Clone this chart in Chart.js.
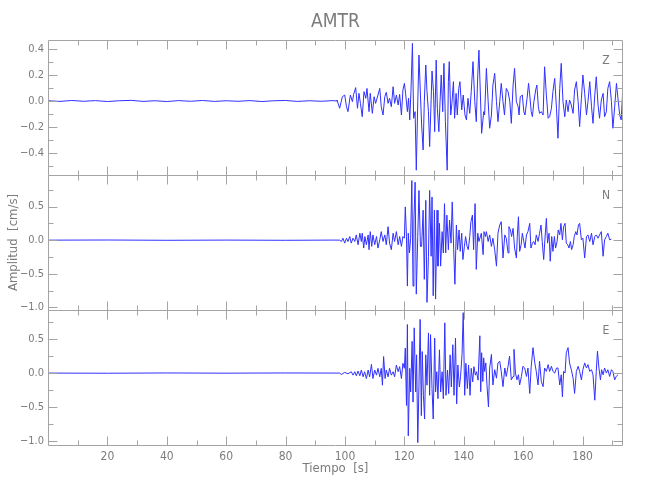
<!DOCTYPE html>
<html><head><meta charset="utf-8">
<script src="https://cdn.jsdelivr.net/npm/chart.js@4/dist/chart.umd.min.js"></script>
<style>html,body{margin:0;padding:0;background:#fff}canvas{display:block}</style>
</head><body>
<canvas id="c" width="650" height="500"></canvas>
<script>
// ---- Data (time in s, amplitude in cm/s) ----
const zTime = [
 0,4,8,12,16,20,24,28,32,36,
 40,44,48,52,56,60,64,68,72,76,
 80,84,88,92,96,
 97.1,97.3,98.2,99.1,99.9,100.5,101.0,101.8,102.5,102.9,
 103.6,104.2,104.7,105.2,105.8,106.4,107.0,107.4,108.1,108.5,
 109.2,109.8,110.3,111.1,111.7,112.2,112.8,113.4,113.9,114.5,
 115.0,115.6,116.2,116.7,117.3,117.9,118.4,119.0,119.5,120.0,
 120.4,121.0,121.4,121.8,122.2,122.7,123.1,123.6,124.0,124.5,
 124.9,125.4,125.8,126.3,126.7,127.2,127.6,128.1,128.5,129.0,
 129.3,129.8,130.2,130.7,131.1,131.6,132.0,132.4,132.9,133.3,
 133.8,134.4,134.8,135.1,135.6,136.0,136.5,136.9,137.4,137.8,
 138.3,138.7,139.3,139.8,140.4,140.9,141.4,142.0,142.5,143.1,
 143.7,144.2,144.7,145.1,146.0,146.7,147.0,147.6,148.2,148.7,
 149.3,149.8,150.4,151.0,151.5,152.1,152.6,153.2,153.7,154.3,
 154.9,155.5,156.0,156.6,157.1,157.7,158.3,158.6,159.0,159.7,
 160.2,160.6,161.3,161.8,162.2,162.7,163.1,163.6,164.2,164.6,
 165.1,165.5,166.1,166.7,167.2,167.8,168.4,168.9,169.5,170.0,
 170.6,171.2,171.7,172.3,172.8,173.4,174.0,174.5,175.1,175.6,
 176.2,176.8,177.3,177.9,178.5,179.0,179.6,180.1,180.7,181.3,
 181.8,182.4,183.0,183.5,184.1,184.6,185.2,185.7,186.3,186.9,
 187.4,188.0,188.5,189.1,189.7,190.2,190.8,191.4,191.9,192.5,
 193.0,193.6
];
const zAmp = [
 0.002,-0.003,0.004,-0.002,0.003,-0.004,0.002,0.005,-0.003,0.002,
 -0.004,0.003,-0.002,0.004,-0.003,0.002,-0.002,0.003,-0.004,0.002,
 0.004,-0.003,0.002,-0.002,0.003,
 0,0.008,-0.056,0.033,0.046,-0.044,-0.082,0.046,-0.005,0.051,
 0.103,-0.056,0.059,-0.018,-0.121,0.072,0.021,0.097,-0.082,0.059,
 -0.095,0.033,-0.018,0.046,0.097,-0.044,-0.108,0.033,0.067,-0.018,
 0.021,-0.044,0.110,-0.018,0.046,-0.031,0.051,-0.108,0.085,0.136,
 0.059,-0.082,0.021,-0.146,0.072,0.444,-0.133,-0.082,-0.533,-0.005,
 0.354,0.046,-0.185,-0.377,-0.005,0.277,0.072,-0.082,-0.351,0.008,
 0.231,0.072,-0.236,0.315,-0.056,-0.236,-0.005,0.200,-0.082,0.290,
 -0.159,-0.533,0.149,0.303,-0.108,-0.018,0.149,-0.133,0.059,-0.108,
 0.097,0.149,-0.069,0.046,-0.108,-0.146,0.021,-0.095,0.072,0.303,
 -0.005,-0.159,0.200,0.392,-0.249,-0.082,-0.108,0.251,-0.005,-0.210,
 -0.108,0.123,0.213,-0.005,-0.159,-0.005,0.136,-0.005,-0.108,0.097,
 0.072,-0.005,-0.172,0.123,0.251,-0.005,-0.044,-0.108,0.033,0.046,
 -0.082,-0.108,0.021,0.136,0.046,-0.082,-0.121,-0.005,0.085,0.123,
 -0.044,-0.095,-0.082,-0.108,0.264,0.046,-0.133,-0.121,-0.056,0.072,
 0.174,-0.056,-0.287,0.097,0.290,-0.005,-0.121,0.008,-0.082,0.008,
 -0.031,-0.095,0.085,0.149,-0.005,-0.197,0.021,0.200,0.059,-0.108,
 -0.005,0.149,-0.044,-0.172,0.046,0.187,-0.031,-0.133,0.008,0.059,
 -0.121,-0.082,0.097,0.149,-0.005,-0.210,-0.044,0.136,0.021,-0.108,
 -0.146,0.123
];
const nTime = [
 0,20,40,60,80,96,
 98.2,98.8,99.3,99.9,100.5,101.0,101.6,102.1,102.7,103.3,
 103.8,104.4,105.0,105.5,105.8,106.3,106.7,107.2,107.8,108.1,
 108.5,109.0,109.4,110.0,110.6,111.1,111.7,112.2,112.8,113.4,
 113.9,114.5,115.0,115.6,116.2,116.7,117.3,117.9,118.4,119.0,
 119.5,120.0,120.3,120.7,121.0,121.3,121.7,122.1,122.5,122.9,
 123.2,123.6,124.0,124.5,124.9,125.4,125.8,126.3,126.7,127.2,
 127.6,128.1,128.5,129.0,129.3,129.7,130.1,130.5,131.0,131.3,
 131.8,132.2,132.7,133.1,133.5,133.9,134.3,134.8,135.2,135.7,
 136.1,136.6,137.0,137.5,137.9,138.4,138.8,139.3,139.7,140.2,
 140.6,141.1,141.5,142.0,142.4,142.9,143.3,143.8,144.2,144.7,
 145.1,145.9,146.5,146.8,147.3,147.6,148.2,148.7,149.3,149.8,
 150.4,151.0,151.5,152.1,152.6,153.2,153.8,154.3,154.9,155.2,
 155.7,156.1,156.6,157.1,157.7,158.0,158.4,158.8,159.3,159.7,
 160.2,160.6,161.1,161.6,162.2,162.6,163.1,163.5,164.0,164.4,
 165.0,165.5,166.0,166.4,166.9,167.3,167.8,168.2,168.7,169.1,
 169.6,170.0,170.5,170.9,171.4,171.8,172.3,172.7,173.2,173.6,
 174.1,174.5,175.0,175.4,175.9,176.3,176.8,177.2,177.7,178.1,
 178.6,179.0,179.6,180.1,180.7,181.3,181.8,182.4,183.0,183.5,
 184.1,184.6,185.2,185.7,186.3,186.9,187.4,188.0,188.5,189.1,
 189.7
];
const nAmp = [
 0,0.002,-0.002,0.001,-0.002,0.001,
 0,-0.020,0.029,-0.044,0.029,-0.020,0.054,-0.044,0.029,-0.020,
 0.078,-0.069,0.103,-0.020,0.103,-0.118,0.054,-0.069,0.078,-0.142,
 0.127,-0.093,0.078,-0.069,0.054,-0.118,0.005,0.127,-0.020,0.078,
 -0.069,0.201,-0.044,-0.142,0.103,-0.020,0.127,-0.069,0.054,-0.093,
 0.054,0.029,0.495,0.054,-0.684,0.103,-0.191,0.029,0.887,-0.684,
 0.299,0.863,-0.804,0.054,0.740,-0.093,-0.093,0.446,-0.583,0.593,
 -0.926,-0.240,0.740,-0.240,0.642,-0.828,0.446,-0.877,0.446,-0.387,
 0.250,-0.387,0.127,-0.191,0.544,-0.191,0.373,-0.142,0.299,-0.044,
 0.569,-0.142,-0.657,0.225,-0.142,0.152,-0.167,0.103,-0.289,-0.093,
 0.054,-0.093,-0.142,0.054,0.275,0.373,-0.142,0.544,-0.436,0.103,
 -0.020,0.103,-0.216,0.127,0.054,0.127,-0.020,0.078,-0.093,0.029,
 -0.142,-0.387,0.103,0.225,0.275,-0.265,0.078,0.029,-0.191,0.201,
 0.152,0.054,0.176,-0.118,-0.265,0.054,0.348,-0.167,-0.069,0.103,
 -0.020,-0.118,0.078,0.127,0.250,-0.118,-0.044,-0.020,-0.069,0.078,
 -0.020,0.103,0.225,-0.020,-0.289,0.005,0.324,-0.044,0.103,-0.314,
 0.054,-0.167,0.054,-0.118,-0.020,0.152,0.078,0.250,0.005,0.201,
 0.250,-0.044,-0.069,-0.118,-0.020,-0.142,-0.069,0.054,0.127,0.078,
 0.225,0.250,0.005,0.029,-0.265,0.054,0.078,-0.020,0.103,-0.069,
 0.054,0.078,0.029,0.078,0.127,-0.240,0.005,0.054,0.103,0.005,
 0.015
];
const eTime = [
 0,20,40,60,80,97,
 98.2,98.8,99.9,101.0,102.1,102.7,103.3,103.8,104.4,105.0,
 105.5,106.1,106.6,107.2,107.8,108.3,108.9,109.4,110.0,110.6,
 111.1,111.7,112.2,112.6,113.0,113.5,113.9,114.5,115.0,115.6,
 116.2,116.7,117.3,117.9,118.4,119.0,119.5,120.0,120.3,120.7,
 121.0,121.3,121.8,122.1,122.6,122.9,123.3,123.8,124.1,124.5,
 124.9,125.3,125.7,126.0,126.4,126.8,127.2,127.6,128.1,128.5,
 128.8,129.3,129.7,130.2,130.5,130.9,131.3,131.8,132.2,132.7,
 133.1,133.6,134.0,134.5,134.9,135.4,135.8,136.3,136.7,137.2,
 137.6,138.0,138.5,138.9,139.4,139.8,140.3,140.7,141.2,141.6,
 142.1,142.5,143.0,143.4,143.9,144.3,144.8,145.4,145.7,146.0,
 146.4,146.7,147.0,147.4,147.8,148.3,148.7,149.3,149.8,150.4,
 151.0,151.5,152.1,152.6,153.2,153.8,154.3,154.9,155.4,156.0,
 156.6,156.9,157.4,157.9,158.4,158.8,159.4,159.9,160.5,161.1,
 161.6,162.2,162.7,163.3,163.9,164.4,165.0,165.5,166.1,166.7,
 167.2,167.8,168.4,168.9,169.5,170.0,170.6,171.2,171.7,172.3,
 172.8,173.2,173.6,174.1,174.5,175.1,175.6,176.2,176.8,177.3,
 177.9,178.5,179.0,179.6,180.1,180.7,181.3,181.8,182.4,183.0,
 183.5,184.1,184.6,185.0,185.5,186.0,186.4,186.9,187.4,188.0,
 188.5,189.1,189.7,190.2,190.8,191.3,191.9
];
const eAmp = [
 0,-0.002,0.002,-0.001,0.002,0,
 0,-0.020,0.010,-0.010,0.020,-0.030,0.020,-0.040,0.030,-0.040,
 0.045,-0.055,0.020,-0.080,0.045,-0.055,0.129,-0.080,0.045,-0.030,
 0.070,-0.055,0.070,-0.179,0.244,-0.080,0.045,-0.055,0.070,-0.030,
 0.020,-0.055,0.119,0.020,0.095,-0.080,0.144,0.070,0.368,-0.478,
 0.716,-0.925,0.070,-0.279,0.468,-0.428,0.667,-0.279,0.269,-1.025,
 -0.179,0.791,-0.627,0.318,-0.328,-0.677,0.269,-0.179,0.592,-0.328,
 0.567,-0.229,-0.677,0.517,-0.279,0.020,-0.378,0.343,-0.279,0.020,
 -0.378,0.741,-0.328,0.045,-0.303,0.269,-0.204,0.418,-0.328,0.517,
 -0.453,0.119,-0.204,-0.055,0.269,0.891,-0.328,0.144,-0.229,0.119,
 -0.328,0.070,-0.129,0.095,-0.030,0.020,-0.104,0.550,-0.275,0.300,
 -0.125,0.225,0.025,0.150,-0.175,-0.500,0.075,0.275,-0.175,0.050,
 -0.075,0.150,0.175,0.025,-0.200,0.075,-0.050,0.100,0.250,-0.100,
 -0.050,0.350,0.000,-0.100,-0.025,-0.175,-0.050,0.100,0.075,-0.050,
 0.075,-0.300,0.100,0.375,0.150,0.025,-0.175,0.175,-0.125,-0.200,
 0.075,0.025,0.125,0.025,0.100,0.025,0.000,0.075,0.075,-0.175,
 -0.025,-0.350,0.025,0.000,0.300,0.375,0.150,0.050,-0.075,-0.300,
 0.025,0.100,0.025,-0.100,0.050,0.150,0.075,0.125,0.025,0.050,
 -0.025,-0.400,0.025,0.325,0.075,-0.100,0.050,-0.025,0.075,0.000,
 0.050,-0.050,0.050,0.025,-0.100,-0.050,-0.025
];

// ---- Ticks and labels ----
const xMajorTicks = [20,40,60,80,100,120,140,160,180];
const xMinorTicks = [10,30,50,70,90,110,130,150,170,190];
const zMajorTicks = [-0.4,-0.2,0.0,0.2,0.4];
const zMinorTicks = [-0.5,-0.3,-0.1,0.1,0.3];
const nMajorTicks = [-1.0,-0.5,0.0,0.5];
const nMinorTicks = [-0.75,-0.25,0.25,0.75];
const eMajorTicks = [-1.0,-0.5,0.0,0.5];
const eMinorTicks = [-0.75,-0.25,0.25,0.75];
const panelNames = ['Z','N','E'];
const titleText = 'AMTR';
const xTitle = 'Tiempo  [s]';
const yTitle = 'Amplitud  [cm/s]';

const NARROW = '"Liberation Sans Narrow", "DejaVu Sans Condensed", "Liberation Sans", sans-serif';
const TEXT = '#7c7c7c';
const FRAME = '#a4a4a4';
const LINE = '#3030ff';

function pts(t, a){ return t.map((v,i)=>({x:v, y:a[i]})); }
function fmt(v){ return v.toFixed(1).replace('-', '\u2212'); }

function yScale(min, max, major){
  return {
    type:'linear', position:'left', stack:'seis', stackWeight:1,
    min, max,
    grid:{display:false, drawTicks:false}, border:{display:false},
    afterBuildTicks: s => { s.ticks = major.map(v=>({value:v})); },
    afterFit: s => { s.width = 48; },
    ticks:{ padding:4, color:TEXT, font:{family:NARROW, size:11}, callback: v => fmt(v) }
  };
}

const panels = [
  {id:'yZ', major:zMajorTicks, minor:zMinorTicks, name:panelNames[0]},
  {id:'yN', major:nMajorTicks, minor:nMinorTicks, name:panelNames[1]},
  {id:'yE', major:eMajorTicks, minor:eMinorTicks, name:panelNames[2]}
];

const framePlugin = {
  id:'frame',
  afterDatasetsDraw(chart){
    const ctx = chart.ctx, xs = chart.scales.x, area = chart.chartArea;
    const l = Math.round(area.left)+0.5, r = Math.round(area.right)-0.5;
    ctx.save();
    ctx.strokeStyle = FRAME; ctx.lineWidth = 1;
    panels.forEach(p=>{
      const ys = chart.scales[p.id];
      const top = Math.round(ys.top)+0.5, bot = Math.round(ys.bottom)+0.5;
      ctx.beginPath();
      ctx.rect(l, top, r-l, bot-top);
      const yt = (v,len)=>{ const py = Math.round(ys.getPixelForValue(v))+0.5;
        ctx.moveTo(l,py); ctx.lineTo(l+len,py); ctx.moveTo(r,py); ctx.lineTo(r-len,py); };
      p.major.forEach(v=>yt(v,9)); p.minor.forEach(v=>yt(v,5));
      const xt = (v,len)=>{ const px = Math.round(xs.getPixelForValue(v))+0.5;
        ctx.moveTo(px,top); ctx.lineTo(px,top+len); ctx.moveTo(px,bot); ctx.lineTo(px,bot-len); };
      xMajorTicks.forEach(v=>xt(v,9)); xMinorTicks.forEach(v=>xt(v,5));
      ctx.stroke();
    });
    ctx.restore();
  },
  afterDraw(chart){
    const ctx = chart.ctx, area = chart.chartArea;
    ctx.save();
    ctx.fillStyle = TEXT;
    ctx.textAlign = 'center'; ctx.textBaseline = 'middle';
    ctx.font = '19px ' + NARROW;
    ctx.fillText(titleText, (area.left+area.right)/2, 22);
    ctx.font = '13px ' + NARROW;
    ctx.fillText(xTitle, (area.left+area.right)/2, 469);
    panels.forEach(p=>{
      const ys = chart.scales[p.id];
      ctx.font = '12px ' + NARROW;
      ctx.fillText(p.name, area.right-17, ys.top+21);
    });
    const yn = chart.scales.yN;
    ctx.translate(14, (yn.top+yn.bottom)/2);
    ctx.rotate(-Math.PI/2);
    ctx.font = '13px ' + NARROW;
    ctx.fillText(yTitle, 0, 0);
    ctx.restore();
  }
};

const ds = (t,a,yid)=>({data:pts(t,a), yAxisID:yid, xAxisID:'x', borderColor:LINE, borderWidth:1,
  pointRadius:0, tension:0, fill:false});

new Chart(document.getElementById('c'), {
  type:'line',
  data:{ datasets:[ ds(zTime,zAmp,'yZ'), ds(nTime,nAmp,'yN'), ds(eTime,eAmp,'yE') ] },
  options:{
    responsive:false, animation:false, devicePixelRatio:1,
    layout:{ padding:{top:40, right:27, left:0, bottom:0} },
    plugins:{ legend:{display:false}, tooltip:{enabled:false}, title:{display:false} },
    scales:{
      x:{ type:'linear', position:'bottom', min:0, max:193.6,
          grid:{display:false, drawTicks:false}, border:{display:false},
          afterBuildTicks: s => { s.ticks = xMajorTicks.map(v=>({value:v})); },
          afterFit: s => { s.height = 55; },
          ticks:{ padding:5, color:TEXT, font:{family:NARROW, size:12}, maxRotation:0, autoSkip:false } },
      yE: yScale(-1.06, 0.93, eMajorTicks),
      yN: yScale(-1.04, 0.97, nMajorTicks),
      yZ: yScale(-0.57, 0.47, zMajorTicks)
    }
  },
  plugins:[framePlugin]
});
</script>
</body></html>
